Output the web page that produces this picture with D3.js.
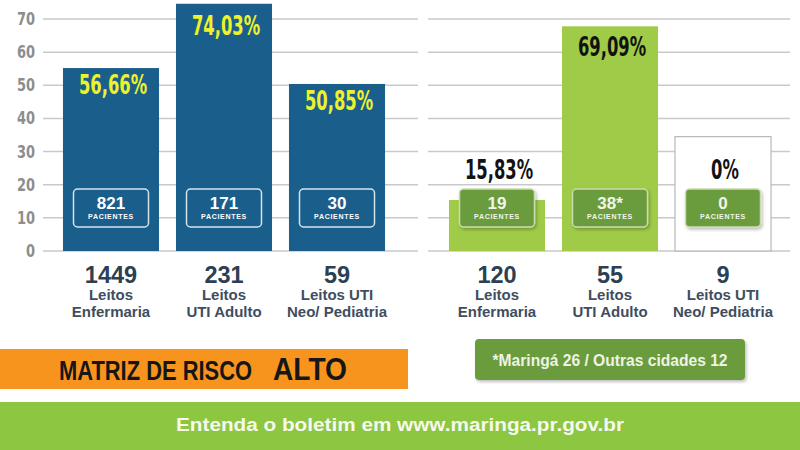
<!DOCTYPE html>
<html>
<head>
<meta charset="utf-8">
<script src="https://cdn.jsdelivr.net/npm/d3@7"></script>
<style>
	body { margin: 0; background: #fff; }
	svg { display: block; }
	text { font-family: "Liberation Sans", Arial, sans-serif; }
	.narrow { font-family: "DejaVu Sans Condensed", "DejaVu Sans", sans-serif; font-stretch: condensed; }
</style>
</head>
<body>
<div id="chart"></div>
<script>
// values
const categories = ["Enfermaria", "UTI Adulto", "Neo/ Pediatria"];
const labelLine1 = ["Leitos", "Leitos", "Leitos UTI"];
const labelLine2 = ["Enfermaria", "UTI Adulto", "Neo/ Pediatria"];
const yTicks = [0, 10, 20, 30, 40, 50, 60, 70];

// left group (blue)
const bedsLeft = [1449, 231, 59];
const barLeft = [55.2, 74.6, 50.4];
const pctLeft = [56.66, 74.03, 50.85];
const patientsLeft = ["821", "171", "30"];

// right group (green)
const bedsRight = [120, 55, 9];
const barRight = [15.4, 67.8, 34.5];
const pctRight = [15.83, 69.09, 0];
const patientsRight = ["19", "38*", "0"];

const footnote = "*Maringá 26 / Outras cidades 12";
const riskLabel = "MATRIZ DE RISCO";
const riskLevel = "ALTO";
const bottomText = "Entenda o boletim em www.maringa.pr.gov.br";

const width = 800, height = 450;

const svg = d3.select("div#chart")
	.append("svg")
		.attr("width", width)
		.attr("height", height);

const y = d3.scaleLinear().domain([0, 70]).range([251, 19]);

const xLeft = d3.scaleBand().domain(categories)
	.range([54.5, 393.5]).paddingInner(0.15).paddingOuter(0.075);
const xRight = d3.scaleBand().domain(categories)
	.range([440.5, 779.5]).paddingInner(0.15).paddingOuter(0.075);

const fmtPct = (v) => {
	if (v === 0) return "0%";
	return d3.format(".2f")(v).replace(".", ",") + "%";
};

// squeeze text horizontally, the picture uses a condensed face
function condense(sel, k) {
	sel.each(function() {
		const w = this.getComputedTextLength();
		d3.select(this)
			.attr("textLength", w * k)
			.attr("lengthAdjust", "spacingAndGlyphs");
	});
}

// gridlines, split in two panels
const grid = svg.append("g").attr("class", "grid");
[[43, 418], [428, 790]].forEach(([x0, x1]) => {
	grid.selectAll(null)
		.data(yTicks)
		.enter()
		.append("line")
			.attr("x1", x0)
			.attr("x2", x1)
			.attr("y1", (d) => y(d))
			.attr("y2", (d) => y(d))
			.attr("stroke", "#c9c9c9")
			.attr("stroke-width", 1.5);
});

// y axis
const axisY = d3.axisLeft(y).tickValues(yTicks).tickSize(0).tickPadding(5);
const gy = svg.append("g")
	.attr("class", "scale-y")
	.attr("transform", "translate(40,0)")
	.call(axisY);
gy.select(".domain").remove();
gy.selectAll("text")
	.attr("class", "narrow")
	.attr("fill", "#8d8d8d")
	.attr("font-size", 17)
	.attr("font-weight", "bold")
	.call(condense, 0.85);

const defs = svg.append("defs");
const f = defs.append("filter").attr("id", "shadow")
	.attr("x", "-20%").attr("y", "-20%").attr("width", "150%").attr("height", "160%");
f.append("feDropShadow")
	.attr("dx", 1.5).attr("dy", 2).attr("stdDeviation", 1.5)
	.attr("flood-color", "#000").attr("flood-opacity", 0.25);

function drawGroup(x, bars, pcts, patients, beds, opts) {
	const g = svg.append("g");
	const idx = d3.range(categories.length);

	// bars
	g.selectAll(".bar")
		.data(idx)
		.enter()
		.append("rect")
			.attr("class", "bar")
			.attr("x", (i) => x(categories[i]))
			.attr("width", x.bandwidth())
			.attr("y", (i) => y(bars[i]))
			.attr("height", (i) => y(0) - y(bars[i]))
			.attr("fill", (i) => opts.fill[i])
			.attr("stroke", (i) => opts.stroke[i])
			.attr("stroke-width", (i) => opts.stroke[i] === "none" ? 0 : 1.2);

	// percentage labels
	g.selectAll(".pct")
		.data(idx)
		.enter()
		.append("text")
			.attr("class", "narrow")
			.attr("x", (i) => x(categories[i]) + x.bandwidth() / 2 + 2)
			.attr("y", (i) => opts.pctY(i))
			.attr("text-anchor", "middle")
			.attr("font-size", 26)
			.attr("font-weight", "bold")
			.attr("fill", opts.pctColor)
			.text((i) => fmtPct(pcts[i]))
			.call(condense, 0.7);

	// patient badges
	const badge = g.selectAll(".badge")
		.data(idx)
		.enter()
		.append("g")
			.attr("transform", (i) => `translate(${x(categories[i]) + x.bandwidth() / 2},${y(0) - 43})`);

	badge.append("rect")
		.attr("x", -37.5)
		.attr("y", -19)
		.attr("width", 75)
		.attr("height", 38)
		.attr("rx", 4)
		.attr("fill", opts.badgeFill)
		.attr("stroke", opts.badgeStroke)
		.attr("stroke-width", 1.5)
		.attr("filter", opts.badgeShadow ? "url(#shadow)" : null);

	badge.append("text")
		.attr("y", 1)
		.attr("text-anchor", "middle")
		.attr("font-size", 17)
		.attr("font-weight", "bold")
		.attr("fill", opts.badgeText)
		.text((i) => patients[i]);

	badge.append("text")
		.attr("y", 10.5)
		.attr("text-anchor", "middle")
		.attr("font-size", 7)
		.attr("font-weight", "bold")
		.attr("letter-spacing", 0.7)
		.attr("fill", opts.badgeText)
		.text("PACIENTES");

	// category labels
	const lab = g.selectAll(".cat")
		.data(idx)
		.enter()
		.append("g")
			.attr("transform", (i) => `translate(${x(categories[i]) + x.bandwidth() / 2},0)`);

	lab.append("text")
		.attr("y", 283)
		.attr("text-anchor", "middle")
		.attr("font-size", 23.5)
		.attr("font-weight", "bold")
		.attr("fill", "#2c3f53")
		.text((i) => beds[i]);

	lab.append("text")
		.attr("y", 300)
		.attr("text-anchor", "middle")
		.attr("font-size", 15)
		.attr("font-weight", "bold")
		.attr("fill", "#3e4e5f")
		.text((i) => labelLine1[i]);

	lab.append("text")
		.attr("y", 317)
		.attr("text-anchor", "middle")
		.attr("font-size", 15)
		.attr("font-weight", "bold")
		.attr("fill", "#3e4e5f")
		.text((i) => labelLine2[i]);
}

drawGroup(xLeft, barLeft, pctLeft, patientsLeft, bedsLeft, {
	fill: ["#1a5f8c", "#1a5f8c", "#1a5f8c"],
	stroke: ["none", "none", "none"],
	pctColor: "#eef22a",
	pctY: (i) => y(barLeft[i]) + (i === 1 ? 31 : 26),
	badgeFill: "#1a5f8c",
	badgeStroke: "#d4e4ee",
	badgeText: "#ffffff",
	badgeShadow: false
});

drawGroup(xRight, barRight, pctRight, patientsRight, bedsRight, {
	fill: ["#9fcb48", "#9fcb48", "#ffffff"],
	stroke: ["none", "none", "#b8b8b8"],
	pctColor: "#121212",
	pctY: (i) => i === 1 ? y(barRight[i]) + 30 : 179,
	badgeFill: "#6b9c3c",
	badgeStroke: "#c9dcb0",
	badgeText: "#f2f6ea",
	badgeShadow: true
});

// risk banner
svg.append("rect")
	.attr("x", 0).attr("y", 349)
	.attr("width", 408).attr("height", 40)
	.attr("fill", "#f7941d");

svg.append("text")
	.attr("x", 59).attr("y", 380)
	.attr("font-family", "'Open Sans', sans-serif")
	.attr("font-size", 27)
	.attr("font-weight", 600)
	.attr("fill", "#161616")
	.attr("textLength", 193)
	.attr("lengthAdjust", "spacingAndGlyphs")
	.text(riskLabel);

svg.append("text")
	.attr("x", 273).attr("y", 380)
	.attr("font-family", "'Open Sans', sans-serif")
	.attr("font-size", 31)
	.attr("font-weight", 600)
	.attr("fill", "#161616")
	.attr("textLength", 74)
	.attr("lengthAdjust", "spacingAndGlyphs")
	.text(riskLevel);

// footnote box
svg.append("rect")
	.attr("x", 475).attr("y", 339)
	.attr("width", 270).attr("height", 41)
	.attr("rx", 4)
	.attr("fill", "#6b9c3c")
	.attr("filter", "url(#shadow)");

svg.append("text")
	.attr("x", 610).attr("y", 366)
	.attr("text-anchor", "middle")
	.attr("font-family", "'Open Sans', sans-serif")
	.attr("font-size", 16)
	.attr("font-weight", "bold")
	.attr("fill", "#eef3e4")
	.attr("textLength", 235)
	.attr("lengthAdjust", "spacingAndGlyphs")
	.text(footnote);

// bottom bar
svg.append("rect")
	.attr("x", 0).attr("y", 402)
	.attr("width", width).attr("height", 48)
	.attr("fill", "#8dc640");

svg.append("text")
	.attr("x", 400).attr("y", 431)
	.attr("text-anchor", "middle")
	.attr("font-family", "'DejaVu Sans', Verdana, sans-serif")
	.attr("font-size", 18)
	.attr("font-weight", "bold")
	.attr("fill", "#f5f9ee")
	.attr("textLength", 448)
	.attr("lengthAdjust", "spacingAndGlyphs")
	.text(bottomText);
</script>
</body>
</html>
